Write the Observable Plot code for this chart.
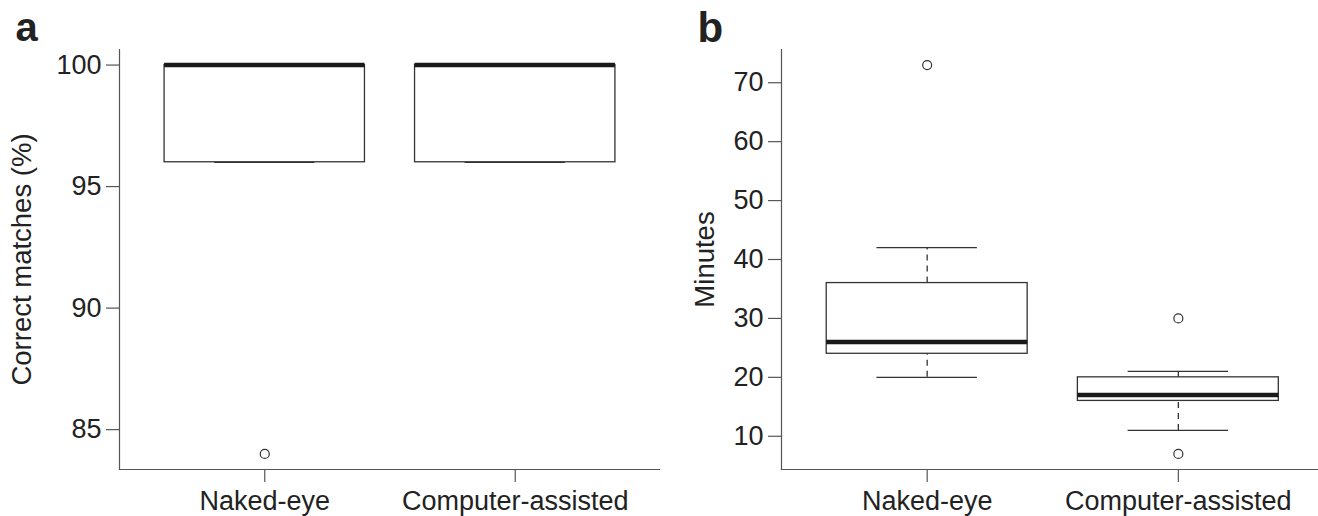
<!DOCTYPE html>
<html>
<head>
<meta charset="utf-8">
<script src="https://cdn.jsdelivr.net/npm/d3@7"></script>
<script src="https://cdn.jsdelivr.net/npm/@observablehq/plot@0.6"></script>
<style>
  html, body { margin: 0; padding: 0; background: #fff; }
  #wrap { display: flex; width: 1318px; height: 516px; overflow: hidden; }
</style>
</head>
<body>
<div id="wrap"></div>
<script>
// ---- shared categories ----
const categories = ["Naked-eye", "Computer-assisted"];

// ---- panel a: correct matches (%) ----
const matchLow    = [96, 96];
const matchQ1     = [96, 96];
const matchMedian = [100, 100];
const matchQ3     = [100, 100];
const matchHigh   = [100, 100];
const matchOutlierGroup = ["Naked-eye"];
const matchOutlierValue = [84];
const matchTicks = [85, 90, 95, 100];

// ---- panel b: minutes ----
const timeLow    = [20, 11];
const timeQ1     = [24, 16];
const timeMedian = [26, 17];
const timeQ3     = [36, 20];
const timeHigh   = [42, 21];
const timeOutlierGroup = ["Naked-eye", "Computer-assisted", "Computer-assisted"];
const timeOutlierValue = [73, 30, 7];
const timeTicks = [10, 20, 30, 40, 50, 60, 70];

const FONT = "'Liberation Sans', Arial, Helvetica, sans-serif";
const BOX_HALF = 0.4, CAP_HALF = 0.2;

function panel(o) {
  const rows = categories.map((c, i) => ({
    pos: i + 1, lo: o.lo[i], q1: o.q1[i], med: o.med[i], q3: o.q3[i], hi: o.hi[i]
  }));
  const outs = o.outValue.map((v, i) => ({pos: categories.indexOf(o.outGroup[i]) + 1, value: v}));
  return Plot.plot({
    width: o.width, height: 516,
    marginLeft: o.marginLeft, marginRight: 0, marginTop: 49, marginBottom: 47,
    style: {fontFamily: FONT, fontSize: "27px", color: "#222", background: "#fff", overflow: "visible"},
    x: {type: "linear", domain: o.xDomain},
    y: {domain: o.yDomain},
    marks: [
      Plot.frame({anchor: "left", stroke: "#555", strokeWidth: 1.2}),
      Plot.frame({anchor: "bottom", stroke: "#555", strokeWidth: 1.2}),
      Plot.axisY({ticks: o.yTicks, tickSize: 13, tickPadding: 5, label: null,
                  stroke: "#555", strokeWidth: 1.2, strokeOpacity: 1, fill: "#222", fontSize: 27}),
      Plot.axisX({ticks: categories.map((c, i) => i + 1), tickFormat: v => categories[v - 1],
                  tickSize: 13, tickPadding: 8, label: null,
                  stroke: "#555", strokeWidth: 1.2, strokeOpacity: 1, fill: "#222", fontSize: 27}),
      Plot.ruleX(rows, {x: "pos", y1: "q3", y2: "hi", stroke: "#333", strokeWidth: 1.3, strokeDasharray: "6,5"}),
      Plot.ruleX(rows, {x: "pos", y1: "lo", y2: "q1", stroke: "#333", strokeWidth: 1.3, strokeDasharray: "6,5"}),
      Plot.ruleY(rows, {y: "hi", x1: d => d.pos - CAP_HALF, x2: d => d.pos + CAP_HALF, stroke: "#333", strokeWidth: 1.3}),
      Plot.ruleY(rows, {y: "lo", x1: d => d.pos - CAP_HALF, x2: d => d.pos + CAP_HALF, stroke: "#333", strokeWidth: 1.3}),
      Plot.rect(rows, {x1: d => d.pos - BOX_HALF, x2: d => d.pos + BOX_HALF, y1: "q1", y2: "q3",
                       fill: "#fff", stroke: "#333", strokeWidth: 1.3}),
      Plot.ruleY(rows, {y: "med", x1: d => d.pos - BOX_HALF, x2: d => d.pos + BOX_HALF, stroke: "#1a1a1a", strokeWidth: 4.5}),
      Plot.dot(outs, {x: "pos", y: "value", r: 4.5, stroke: "#333", strokeWidth: 1.2, fill: "none"}),
      Plot.text([o.yLabel], {text: d => d, frameAnchor: "left", dx: o.labelDx, rotate: -90,
                             textAnchor: "middle", lineAnchor: "middle", fontSize: 27.5, fill: "#222"}),
      Plot.text([o.letter], {text: d => d, frameAnchor: "top-left", dx: o.letterDx, dy: o.letterDy,
                             textAnchor: "start", lineAnchor: "middle", fontSize: o.letterSize,
                             fontWeight: "bold", fill: "#222"})
    ]
  });
}

const wrap = document.getElementById("wrap");
wrap.appendChild(panel({
  width: 660, marginLeft: 119, xDomain: [0.42, 2.58], yDomain: [83.36, 100.64], yTicks: matchTicks,
  lo: matchLow, q1: matchQ1, med: matchMedian, q3: matchQ3, hi: matchHigh,
  outGroup: matchOutlierGroup, outValue: matchOutlierValue,
  yLabel: "Correct matches (%)", labelDx: -97, letter: "a", letterDx: -104, letterDy: -21, letterSize: 40
}));
wrap.appendChild(panel({
  width: 658, marginLeft: 121, xDomain: [0.42, 2.558], yDomain: [4.36, 75.64], yTicks: timeTicks,
  lo: timeLow, q1: timeQ1, med: timeMedian, q3: timeQ3, hi: timeHigh,
  outGroup: timeOutlierGroup, outValue: timeOutlierValue,
  yLabel: "Minutes", labelDx: -76, letter: "b", letterDx: -84, letterDy: -21, letterSize: 42
}));
</script>
</body>
</html>
